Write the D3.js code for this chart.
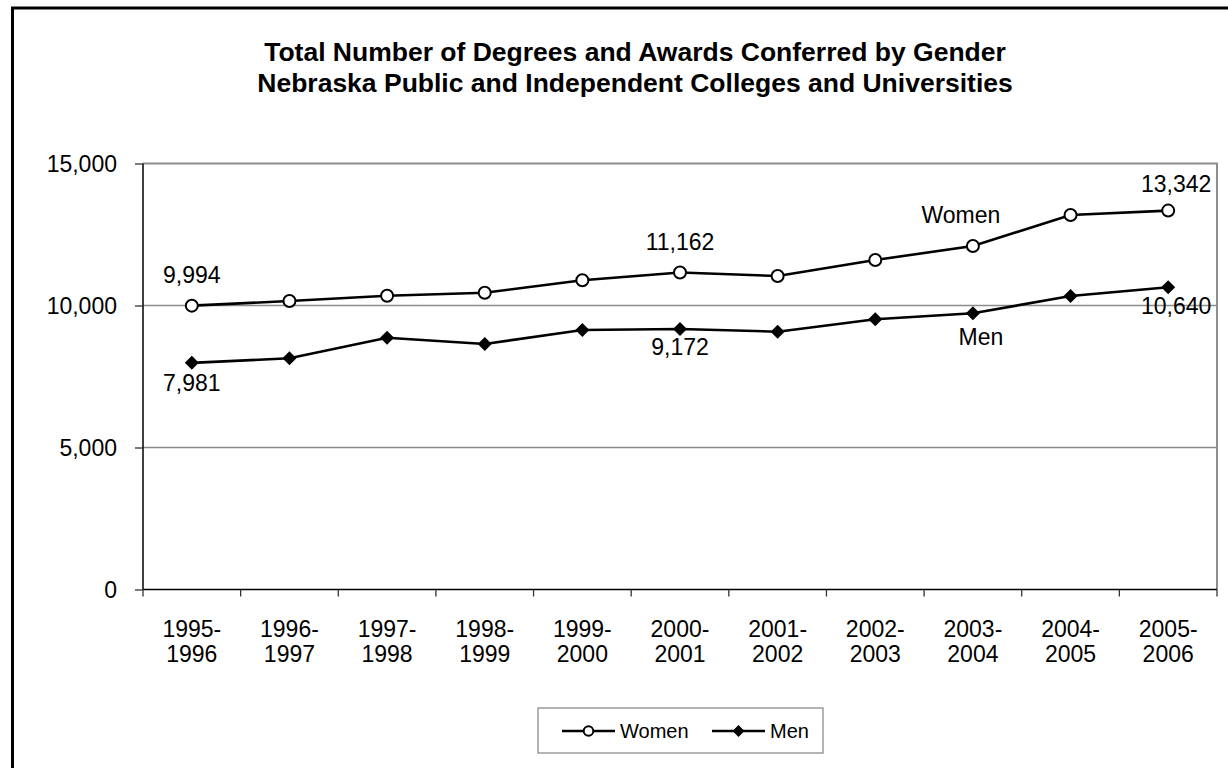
<!DOCTYPE html>
<html>
<head>
<meta charset="utf-8">
<script src="https://cdn.jsdelivr.net/npm/d3@7"></script>
<style>
  html, body { margin: 0; padding: 0; background: #fff; }
  svg { display: block; font-family: "Liberation Sans", Arial, sans-serif; }
</style>
</head>
<body>
<svg id="chart" width="1228" height="768"></svg>
<script>
'use strict';

// data
const categories = [
  '1995-1996', '1996-1997', '1997-1998', '1998-1999', '1999-2000', '2000-2001',
  '2001-2002', '2002-2003', '2003-2004', '2004-2005', '2005-2006',
];
const women = [9994, 10158, 10345, 10451, 10887, 11162, 11039, 11602, 12095, 13187, 13342];
const men = [7981, 8141, 8866, 8644, 9137, 9172, 9078, 9514, 9725, 10335, 10640];
const yTicks = [0, 5000, 10000, 15000];
const titleLines = [
  'Total Number of Degrees and Awards Conferred by Gender',
  'Nebraska Public and Independent Colleges and Universities',
];

const series = [
  { name: 'Women', values: women, marker: 'circle' },
  { name: 'Men', values: men, marker: 'diamond' },
];

// value labels: which points get one, and where it sits
const valueLabels = {
  Women: [{ i: 0, dx: 0, dy: -23 }, { i: 5, dx: 0, dy: -22 }, { i: 10, dx: 8, dy: -19 }],
  Men: [{ i: 0, dx: 0, dy: 28 }, { i: 5, dx: 0, dy: 26 }, { i: 10, dx: 8, dy: 27 }],
};
const nameLabels = {
  Women: { i: 8, dx: -12, dy: -23 },
  Men: { i: 8, dx: 8, dy: 32 },
};

const plot = { left: 143, right: 1217, top: 163.5, bottom: 589.5 };
const fmt = d3.format(',');

const svg = d3.select('#chart');

// outer frame
svg
  .append('rect')
  .attr('x', 12.5)
  .attr('y', 8)
  .attr('width', 1400)
  .attr('height', 1000)
  .attr('fill', '#fff')
  .attr('stroke', '#000')
  .attr('stroke-width', 3);

// title
svg
  .append('text')
  .attr('text-anchor', 'middle')
  .attr('font-weight', 'bold')
  .attr('font-size', 26.5)
  .selectAll('tspan')
  .data(titleLines)
  .enter()
  .append('tspan')
  .attr('x', 635)
  .attr('y', (d, i) => 61 + i * 31)
  .text((d) => d);

const x = d3
  .scaleBand()
  .domain(categories)
  .range([plot.left, plot.right]);
const y = d3
  .scaleLinear()
  .domain([0, 15000])
  .range([plot.bottom, plot.top]);

const cx = (i) => x(categories[i]) + x.bandwidth() / 2;

// gridlines
svg
  .append('g')
  .selectAll('line')
  .data(yTicks.filter((d) => d > 0 && d < 15000))
  .enter()
  .append('line')
  .attr('x1', plot.left)
  .attr('x2', plot.right)
  .attr('y1', (d) => y(d))
  .attr('y2', (d) => y(d))
  .attr('stroke', '#8c8c8c')
  .attr('stroke-width', 1.3);

// top + right border of plot area (gray)
svg
  .append('path')
  .attr('d', `M${plot.left},${plot.top}H${plot.right}V${plot.bottom}`)
  .attr('fill', 'none')
  .attr('stroke', '#8c8c8c')
  .attr('stroke-width', 2);

// y axis
const yAxis = svg
  .append('g')
  .attr('transform', `translate(${plot.left},0)`)
  .call(
    d3
      .axisLeft(y)
      .tickValues(yTicks)
      .tickSize(8)
      .tickPadding(18)
      .tickFormat(fmt)
  );
yAxis.select('.domain').attr('stroke', '#000').attr('stroke-width', 1.5).attr('d', `M0,${plot.top}V${plot.bottom}`);
yAxis.selectAll('.tick line').attr('stroke', '#333').attr('stroke-width', 1.3);
yAxis
  .selectAll('.tick text')
  .attr('font-size', 23)
  .attr('font-family', '"Liberation Sans", Arial, sans-serif')
  .attr('fill', '#000')
  .attr('dy', '0.36em');

// x axis: ticks at the band boundaries
const xAxis = svg.append('g');
xAxis
  .append('line')
  .attr('x1', plot.left)
  .attr('x2', plot.right)
  .attr('y1', plot.bottom)
  .attr('y2', plot.bottom)
  .attr('stroke', '#000')
  .attr('stroke-width', 1.5);
xAxis
  .selectAll('line.tick')
  .data(categories.map((c) => x(c)).concat([plot.right]))
  .enter()
  .append('line')
  .attr('class', 'tick')
  .attr('x1', (d) => d)
  .attr('x2', (d) => d)
  .attr('y1', plot.bottom)
  .attr('y2', plot.bottom + 7)
  .attr('stroke', '#333')
  .attr('stroke-width', 1.3);
xAxis
  .selectAll('text')
  .data(categories)
  .enter()
  .append('text')
  .attr('text-anchor', 'middle')
  .attr('font-size', 23)
  .each(function(d, i) {
    const parts = d.split('-');
    const t = d3.select(this);
    t.append('tspan').attr('x', cx(i)).attr('y', 637).text(parts[0] + '-');
    t.append('tspan').attr('x', cx(i)).attr('y', 661.5).text(parts[1]);
  });

// markers
const drawMarker = (g, type, px, py, scale) => {
  if (type === 'circle') {
    g.append('circle')
      .attr('cx', px)
      .attr('cy', py)
      .attr('r', 6 * scale)
      .attr('fill', '#fff')
      .attr('stroke', '#000')
      .attr('stroke-width', 2);
  } else {
    const s = 7 * scale;
    g.append('path')
      .attr('d', `M${px},${py - s}L${px + s},${py}L${px},${py + s}L${px - s},${py}Z`)
      .attr('fill', '#000');
  }
};

const line = d3
  .line()
  .x((d, i) => cx(i))
  .y((d) => y(d));

series.forEach((s) => {
  const g = svg.append('g');
  g.append('path')
    .attr('d', line(s.values))
    .attr('fill', 'none')
    .attr('stroke', '#000')
    .attr('stroke-width', 2.6);
  s.values.forEach((v, i) => drawMarker(g, s.marker, cx(i), y(v), 1));

  valueLabels[s.name].forEach((l) => {
    g.append('text')
      .attr('x', cx(l.i) + l.dx)
      .attr('y', y(s.values[l.i]) + l.dy)
      .attr('text-anchor', 'middle')
      .attr('font-size', 23)
      .text(fmt(s.values[l.i]));
  });

  const n = nameLabels[s.name];
  g.append('text')
    .attr('x', cx(n.i) + n.dx)
    .attr('y', y(s.values[n.i]) + n.dy)
    .attr('text-anchor', 'middle')
    .attr('font-size', 23)
    .text(s.name);
});

// legend
const legend = svg.append('g');
legend
  .append('rect')
  .attr('x', 538)
  .attr('y', 708)
  .attr('width', 285)
  .attr('height', 45)
  .attr('fill', '#fff')
  .attr('stroke', '#8c8c8c')
  .attr('stroke-width', 1.3);

const legendItems = [
  { s: series[0], x0: 562 },
  { s: series[1], x0: 712 },
];
legendItems.forEach((d) => {
  const ly = 731;
  legend
    .append('line')
    .attr('x1', d.x0)
    .attr('x2', d.x0 + 53)
    .attr('y1', ly)
    .attr('y2', ly)
    .attr('stroke', '#000')
    .attr('stroke-width', 2.6);
  drawMarker(legend, d.s.marker, d.x0 + 26.5, ly, d.s.marker === 'circle' ? 0.8 : 0.85);
  legend
    .append('text')
    .attr('x', d.x0 + 58)
    .attr('y', 738)
    .attr('font-size', 20)
    .text(d.s.name);
});
</script>
</body>
</html>
